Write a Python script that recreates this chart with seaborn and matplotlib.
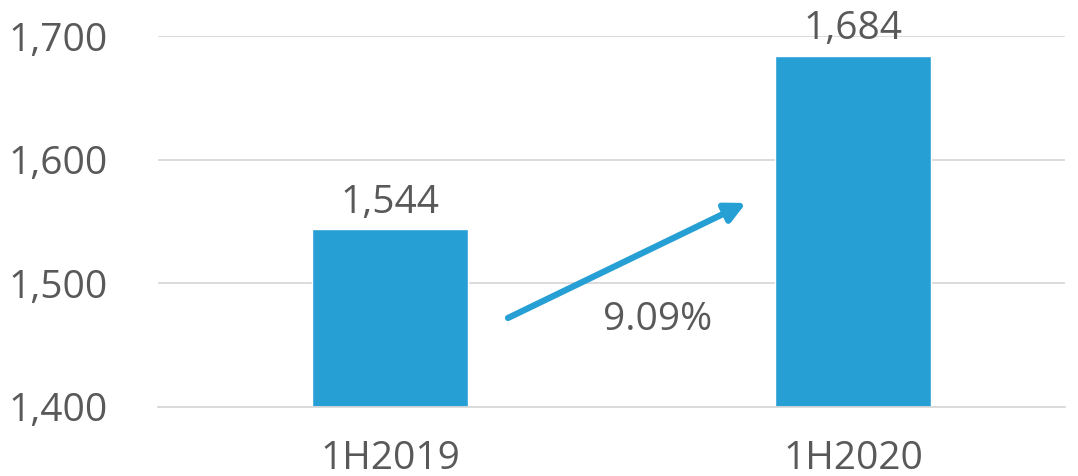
import matplotlib
matplotlib.use("Agg")
import matplotlib.pyplot as plt
import seaborn as sns
import pandas as pd

categories = ["1H2019", "1H2020"]
values = [1544, 1684]
value_labels = ["1,544", "1,684"]
growth_label = "9.09%"
yticks = [1400, 1500, 1600, 1700]
ytick_labels = ["1,400", "1,500", "1,600", "1,700"]

sns.set_theme(style="white")
plt.rcParams['font.family'] = ['Open Sans', 'DejaVu Sans']

bar_color = "#259FD4"
text_color = "#595959"

fig = plt.figure(figsize=(10.78, 4.76), dpi=100)
ax = fig.add_axes([158/1078, 1 - 407/476, (1065-158)/1078, (407-36)/476])

df = pd.DataFrame({"cat": categories, "val": values})
sns.barplot(data=df, x="cat", y="val", color=bar_color, width=0.335, ax=ax, saturation=1)

ax.set_ylim(1400, 1700)
ax.set_xlim(-0.501, 1.458)
ax.set_yticks(yticks)
ax.set_yticklabels(ytick_labels)
ax.set_xlabel("")
ax.set_ylabel("")
ax.grid(axis="y", color="#D9D9D9", linewidth=1.3)
ax.set_axisbelow(True)
for s in ["top", "right", "left"]:
    ax.spines[s].set_visible(False)
ax.spines["bottom"].set_color("#D9D9D9")
ax.spines["bottom"].set_linewidth(1.3)
ax.tick_params(axis="both", length=0, labelsize=28, colors=text_color)
ax.tick_params(axis="x", pad=24)
ax.tick_params(axis="y", pad=36)

for i, (v, lab) in enumerate(zip(values, value_labels)):
    ax.text(i, v + 6, lab, ha="center", va="bottom", fontsize=28, color=text_color, clip_on=False)

ax.annotate("", xy=(0.769, 1565), xytext=(0.255, 1472),
            arrowprops=dict(arrowstyle="-|>,head_length=1.0,head_width=0.5", color=bar_color, lw=4.5,
                            shrinkA=0, shrinkB=0))
ax.text(0.577, 1470, growth_label, ha="center", va="center", fontsize=28, color=text_color)

fig.savefig("out.png", dpi=100)
